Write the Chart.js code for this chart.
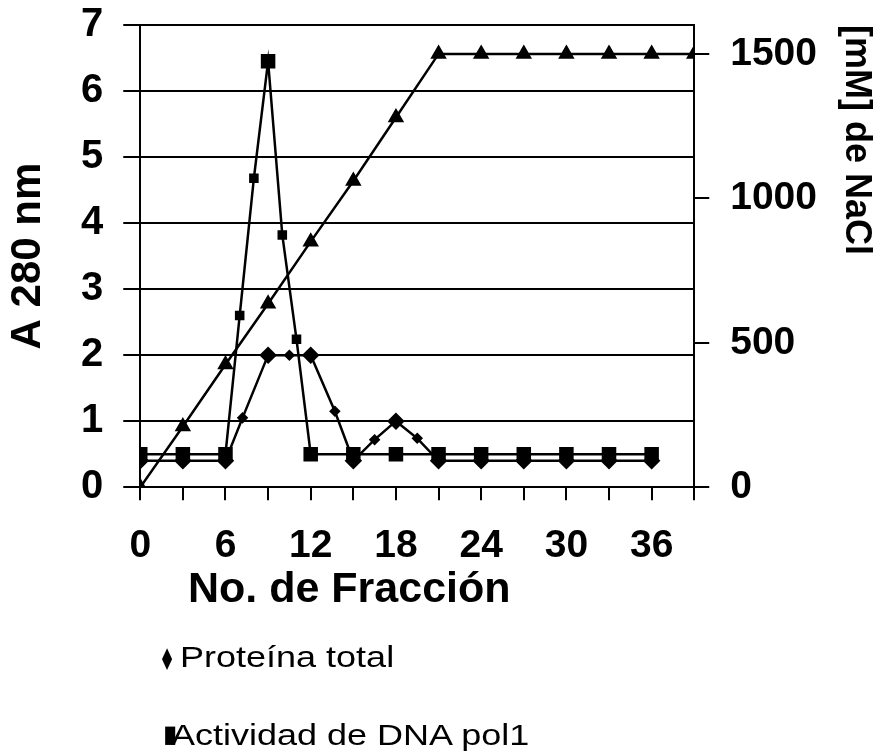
<!DOCTYPE html>
<html><head><meta charset="utf-8">
<script src="https://cdn.jsdelivr.net/npm/chart.js@4.4.1/dist/chart.umd.min.js"></script>
<style>
html,body{margin:0;padding:0;background:#fff;}
#wrap{position:relative;width:884px;height:755px;overflow:hidden;background:#fff;}
canvas{position:absolute;left:0;top:0;}
.txt{position:absolute;white-space:nowrap;color:#000;font-family:'Liberation Sans',Arial,sans-serif;line-height:1;}
#xtitle{left:188px;top:566px;font-size:43px;font-weight:bold;}
.leg{font-size:30px;transform:scaleX(1.2);transform-origin:0 0;}
.mk{position:absolute;font-family:'DejaVu Sans',sans-serif;line-height:1;color:#000;transform-origin:0 0;}
</style>
</head><body>
<div id="wrap">
<canvas id="c" width="884" height="755"></canvas>
<div id="xtitle" class="txt">No. de Fracción</div>
<span class="mk" style="left:159px;top:645px;font-size:30px;transform:scaleX(0.6);">♦</span>
<div class="txt leg" style="left:180px;top:642px;">Proteína total</div>
<span class="mk" style="left:164px;top:722px;font-size:24px;transform:scaleX(0.55);">■</span>
<div class="txt leg" style="left:171px;top:720px;">Actividad de DNA pol1</div>
</div>
<script>
// ---- data ----
const proteinFraction = [0, 3, 6, 7.2, 9, 10.5, 12, 13.7, 15, 16.5, 18, 19.5, 21, 24, 27, 30, 33, 36];
const proteinA280     = [0.4, 0.4, 0.4, 1.05, 2.0, 2.0, 2.0, 1.15, 0.4, 0.72, 1.0, 0.74, 0.4, 0.4, 0.4, 0.4, 0.4, 0.4];

const polFraction = [0, 3, 6, 7, 8, 9, 10, 11, 12, 15, 18, 21, 24, 27, 30, 33, 36];
const polActivity = [0.5, 0.5, 0.5, 2.6, 4.68, 6.45, 3.82, 2.24, 0.5, 0.5, 0.5, 0.5, 0.5, 0.5, 0.5, 0.5, 0.5];

const naclFraction = [0, 3, 6, 9, 12, 15, 18, 21, 24, 27, 30, 33, 36, 39];
const naclMM       = [0, 210, 425, 635, 850, 1060, 1280, 1500, 1500, 1500, 1500, 1500, 1500, 1500];

const xTickLabels = [0, 6, 12, 18, 24, 30, 36];
const leftTickLabels = [0, 1, 2, 3, 4, 5, 6, 7];
const rightTickLabels = [0, 500, 1000, 1500];

const seriesNames = ['Proteína total', 'Actividad de DNA pol1', '[mM] de NaCl'];
const leftTitle = 'A 280 nm';
const rightTitle = '[mM] de NaCl';

// ---- chart ----
const FONT = "'Liberation Sans', Arial, sans-serif";
Chart.defaults.font.family = FONT;
Chart.defaults.color = '#000';

const toPoints = (xs, ys) => xs.map((x, i) => ({x: x, y: ys[i]}));
const onStep = ctx => ctx.raw && ctx.raw.x % 3 === 0;

new Chart(document.getElementById('c'), {
  type: 'line',
  data: {
    datasets: [
      {
        label: seriesNames[2], data: toPoints(naclFraction, naclMM), yAxisID: 'y2',
        borderColor: '#000', backgroundColor: '#000', borderWidth: 2.5,
        pointStyle: 'triangle', pointRadius: 7, tension: 0
      },
      {
        label: seriesNames[1], data: toPoints(polFraction, polActivity), yAxisID: 'y',
        borderColor: '#000', backgroundColor: '#000', borderWidth: 2.5,
        pointStyle: 'rect', pointRadius: ctx => onStep(ctx) ? 8.5 : 5, tension: 0
      },
      {
        label: seriesNames[0], data: toPoints(proteinFraction, proteinA280), yAxisID: 'y',
        borderColor: '#000', backgroundColor: '#000', borderWidth: 2.5,
        pointStyle: 'rectRot', pointRadius: ctx => onStep(ctx) ? 7 : 4, tension: 0
      }
    ]
  },
  options: {
    responsive: false,
    animation: false,
    devicePixelRatio: 1,
    layout: { padding: { top: 25, left: 0, right: 0, bottom: 162 } },
    plugins: { legend: { display: false }, tooltip: { enabled: false } },
    scales: {
      x: {
        type: 'linear', min: 0, max: 39,
        grid: { drawOnChartArea: false, drawTicks: true, tickLength: 13, color: '#000', lineWidth: 2 },
        border: { display: true, color: '#000', width: 2 },
        ticks: {
          stepSize: 3, autoSkip: false, maxRotation: 0, padding: 23,
          font: { size: 39, weight: 'bold' },
          callback: v => xTickLabels.includes(v) ? String(v) : ''
        }
      },
      y: {
        position: 'left', min: 0, max: 7,
        grid: { color: '#000', lineWidth: 2, tickLength: 17 },
        border: { display: true, color: '#000', width: 2 },
        afterBuildTicks: s => { s.ticks = leftTickLabels.map(v => ({value: v})); },
        ticks: {
          autoSkip: false, padding: 20, font: { size: 40, weight: 'bold', lineHeight: 0.2 },
          callback: v => String(v)
        },
        title: { display: true, text: leftTitle, font: { size: 42, weight: 'bold', lineHeight: 1 }, padding: { top: 7, bottom: 12 } }
      },
      y2: {
        position: 'right', min: 0, max: 1600,
        grid: { drawOnChartArea: false, color: '#000', lineWidth: 2, tickLength: 15 },
        border: { display: true, color: '#000', width: 2 },
        afterBuildTicks: s => { s.ticks = rightTickLabels.map(v => ({value: v})); },
        ticks: {
          autoSkip: false, padding: 21, font: { size: 39, weight: 'bold', lineHeight: 0.2 },
          callback: v => String(v)
        },
        title: { display: true, text: rightTitle, align: 'end', font: { size: 36, weight: 'bold', lineHeight: 1 }, padding: { top: 10, bottom: 0 } }
      }
    }
  }
});
</script>
</body></html>
